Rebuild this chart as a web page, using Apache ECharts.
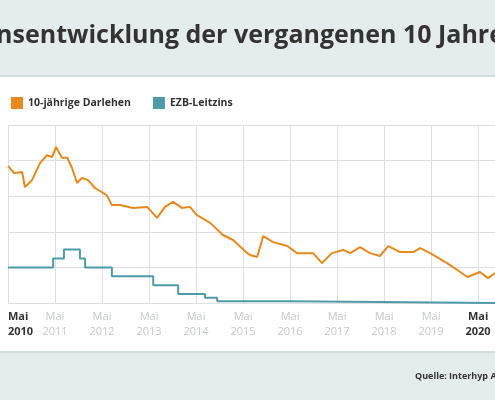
<!DOCTYPE html>
<html><head><meta charset="utf-8">
<script src="https://cdn.jsdelivr.net/npm/echarts@6/dist/echarts.min.js"></script>
<style>html,body{margin:0;padding:0;background:#fff}#c{width:495px;height:400px}</style>
</head><body><div id="c"></div>
<script>
// x = years since Mai 2010, y = Zins in %
var darlehen = [
  [0,3.85],[0.13,3.65],[0.3,3.68],[0.36,3.26],[0.51,3.45],[0.68,3.93],[0.83,4.15],[0.94,4.1],[1.02,4.38],
  [1.15,4.08],[1.26,4.08],[1.36,3.8],[1.47,3.37],[1.57,3.51],[1.7,3.45],[1.85,3.23],[2.1,3.03],[2.21,2.75],
  [2.38,2.75],[2.66,2.67],[2.96,2.7],[3.17,2.39],[3.34,2.7],[3.51,2.84],[3.7,2.67],[3.87,2.7],[4.02,2.47],
  [4.3,2.25],[4.57,1.91],[4.79,1.77],[5.09,1.4],[5.15,1.35],[5.3,1.29],[5.43,1.88],[5.64,1.71],[5.94,1.6],
  [6.15,1.4],[6.49,1.4],[6.68,1.12],[6.89,1.4],[7.13,1.49],[7.28,1.4],[7.49,1.57],[7.7,1.4],[7.91,1.32],
  [8.09,1.6],[8.34,1.43],[8.62,1.43],[8.77,1.54],[8.98,1.4],[9.34,1.12],[9.62,0.87],[9.77,0.73],[10.04,0.87],
  [10.21,0.7],[10.36,0.84]
];
var leitzins = [
  [0,1.0],[0.96,1.25],[1.19,1.5],[1.53,1.25],[1.64,1.0],[2.21,0.75],[3.09,0.5],[3.62,0.25],[4.19,0.15],
  [4.45,0.05],[6.0,0],[10.36,0]
];
var startJahr = 2010;

var chart = echarts.init(document.getElementById('c'));
chart.setOption({
  animation: false,
  graphic: [
    {type:'rect', shape:{x:0,y:0,width:495,height:75}, style:{fill:'#e4ecee'}},
    {type:'rect', shape:{x:0,y:75,width:495,height:2}, style:{fill:'#d3dde0'}},
    {type:'rect', shape:{x:0,y:352,width:495,height:48}, style:{fill:'#e4ecee'}},
    {type:'rect', shape:{x:0,y:351,width:495,height:2}, style:{fill:'#d3dde0'}},
    {type:'text', left:-26, top:23, style:{text:'Zinsentwicklung der vergangenen 10 Jahre', fill:'#333', font:'bold 25px "Open Sans"'}},
    {type:'text', left:415, top:372, style:{text:'Quelle: Interhyp AG', fill:'#333', font:'bold 9px "Open Sans"'}}
  ],
  legend: {
    left: 6, top: 92, itemWidth: 12, itemHeight: 12, itemGap: 22, icon: 'rect',
    textStyle: {fontSize: 10.5, fontWeight: 'bold', color: '#333', fontFamily: 'Open Sans'}
  },
  grid: {left: 8, right: 0, top: 125, bottom: 97, containLabel: false, outerBoundsMode: 'none'},
  xAxis: {
    type: 'value', min: 0, max: 10.36, interval: 1,
    axisLine: {show: false}, axisTick: {show: false},
    splitLine: {lineStyle: {color: '#e0e0e0'}},
    axisLabel: {
      showMaxLabel: false, margin: 6, align: 'center', alignMinLabel: 'left',
      formatter: function (v) {
        var s = (v === 0 || v === 10) ? 'b' : 'g';
        return '{' + s + '|Mai}\n{' + s + '|' + (startJahr + v) + '}';
      },
      rich: {
        b: {fontSize: 11, fontWeight: 'bold', color: '#333', lineHeight: 15, fontFamily: 'Open Sans'},
        g: {fontSize: 11, color: '#c4c8ca', lineHeight: 15, fontFamily: 'Open Sans'}
      }
    }
  },
  yAxis: {
    type: 'value', min: 0, max: 5, interval: 1,
    axisLabel: {show: false}, axisLine: {show: false}, axisTick: {show: false},
    splitLine: {lineStyle: {color: '#e0e0e0'}}
  },
  series: [
    {name: '10-jährige Darlehen', type: 'line', data: darlehen, showSymbol: false,
     color: '#e8891e', lineStyle: {width: 2}},
    {name: 'EZB-Leitzins', type: 'line', step: 'end', data: leitzins, showSymbol: false,
     color: '#4f9aa8', lineStyle: {width: 2}}
  ]
});
</script></body></html>
